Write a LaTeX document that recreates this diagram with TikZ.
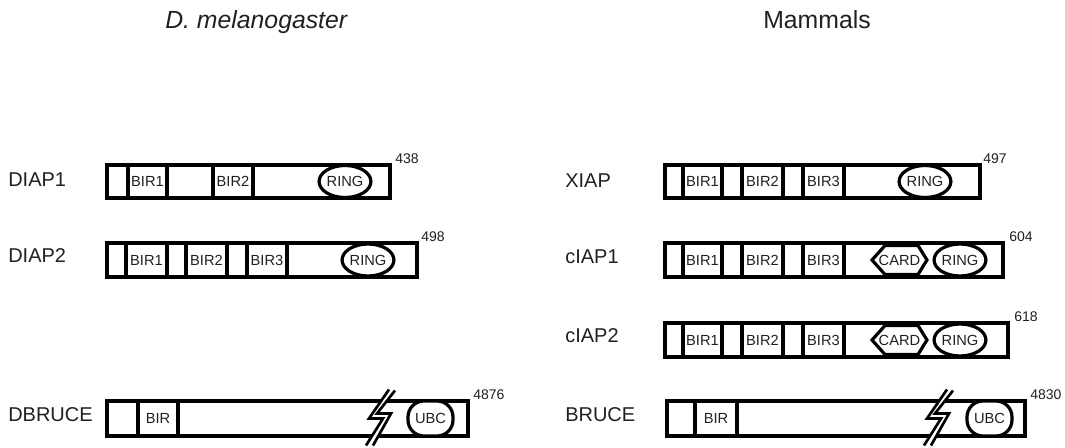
\documentclass[tikz,border=0pt]{standalone}
\usepackage{fontspec}
\setmainfont{Liberation Sans}
\usetikzlibrary{shapes.geometric}
\definecolor{txt}{HTML}{231F20}
\begin{document}
\begin{tikzpicture}[x=0.75pt,y=-0.75pt,
  prot/.style={draw=black,line width=2.6pt},
  divl/.style={draw=black,line width=2.3pt},
  dom/.style={font=\fontsize{11}{13}\selectfont,inner sep=0pt,text=txt},
  ringnode/.style={ellipse,draw=black,line width=2.4pt,fill=white,minimum width=33pt,minimum height=24pt,inner sep=0pt,font=\fontsize{11}{13}\selectfont,text=txt},
  ubcbox/.style={draw=black,line width=2.4pt,fill=white,rounded corners=12pt},
  cardbox/.style={draw=black,line width=2.4pt,fill=white,line join=miter},
  lbl/.style={anchor=base west,inner sep=0pt,font=\fontsize{15}{18}\selectfont,text=txt},
  num/.style={anchor=base west,inner sep=0pt,font=\fontsize{10.5}{12}\selectfont,text=txt},
  ttl/.style={anchor=base west,inner sep=0pt,font=\fontsize{18.6}{22}\selectfont,text=txt},
  brk/.pic={
    \fill[white] (9,-29)--(-11,0)--(3,0)--(-14,27)--(-7,27)--(11,-5)--(-3,-5)--(15,-28)--cycle;
    \draw[line width=2pt,line join=miter] (9,-29)--(-11,0)--(3,0)--(-14,27);
    \draw[line width=2pt,line join=miter] (15,-28)--(-3,-5)--(11,-5)--(-7,27);
  }
]
\useasboundingbox (0,0) rectangle (1065,447);

% titles
\node[ttl] (t1) at (165,28) {\itshape D. melanogaster};
\node[ttl] (t2) at (763,28) {Mammals};

% ---------- DIAP1 ----------
\node[lbl] (l1) at (8,186) {DIAP1};
\draw[prot] (107,165) rectangle (390,198);
\foreach \x in {128,167,213,253} \draw[divl] (\x,165) -- (\x,198);
\node[dom] (d1b1) at (147.5,181.5) {BIR1};
\node[dom] (d1b2) at (233,181.5) {BIR2};
\node[ringnode] (d1r) at (345,181.5) {RING};
\node[num] (n1) at (395,163) {438};

% ---------- DIAP2 ----------
\node[lbl] (l2) at (8,262) {DIAP2};
\draw[prot] (107,243) rectangle (417,277);
\foreach \x in {126,167,186,227,247,287} \draw[divl] (\x,243) -- (\x,277);
\node[dom] (d2b1) at (146.5,260) {BIR1};
\node[dom] (d2b2) at (206.5,260) {BIR2};
\node[dom] (d2b3) at (267,260) {BIR3};
\node[ringnode] (d2r) at (368,260) {RING};
\node[num] (n2) at (421,241) {498};

% ---------- DBRUCE ----------
\node[lbl] (l3) at (8,421.5) {DBRUCE};
\draw[prot] (107,401) rectangle (468,436);
\foreach \x in {138,178} \draw[divl] (\x,401) -- (\x,436);
\node[dom] (d3b) at (158,418.5) {BIR};
\pic at (380,418.5) {brk};
\draw[ubcbox] (408,401) rectangle (453,436);
\node[dom] (d3u) at (430.5,418.5) {UBC};
\node[num] (n3) at (473,399) {4876};

% ---------- XIAP ----------
\node[lbl] (l4) at (565,187) {XIAP};
\draw[prot] (665,165) rectangle (980,198);
\foreach \x in {683,722,742,783,803,844} \draw[divl] (\x,165) -- (\x,198);
\node[dom] (x1) at (702.5,181.5) {BIR1};
\node[dom] (x2) at (762.5,181.5) {BIR2};
\node[dom] (x3) at (823.5,181.5) {BIR3};
\node[ringnode] (xr) at (925,181.5) {RING};
\node[num] (n4) at (983,163) {497};

% ---------- cIAP1 ----------
\node[lbl] (l5) at (565,263) {cIAP1};
\draw[prot] (665,243) rectangle (1003,277);
\foreach \x in {683,722,742,783,803,844} \draw[divl] (\x,243) -- (\x,277);
\node[dom] (c1b1) at (702.5,260) {BIR1};
\node[dom] (c1b2) at (762.5,260) {BIR2};
\node[dom] (c1b3) at (823.5,260) {BIR3};
\draw[cardbox] (872,260) -- (885,245.5) -- (918,245.5) -- (927,260) -- (918,274.5) -- (885,274.5) -- cycle;
\node[dom] (c1c) at (899.5,260) {CARD};
\node[ringnode] (c1r) at (960,260) {RING};
\node[num] (n5) at (1009,241) {604};

% ---------- cIAP2 ----------
\node[lbl] (l6) at (565,342) {cIAP2};
\draw[prot] (665,323) rectangle (1008,357);
\foreach \x in {683,722,742,783,803,844} \draw[divl] (\x,323) -- (\x,357);
\node[dom] (c2b1) at (702.5,340) {BIR1};
\node[dom] (c2b2) at (762.5,340) {BIR2};
\node[dom] (c2b3) at (823.5,340) {BIR3};
\draw[cardbox] (872,340) -- (885,325.5) -- (918,325.5) -- (927,340) -- (918,354.5) -- (885,354.5) -- cycle;
\node[dom] (c2c) at (899.5,340) {CARD};
\node[ringnode] (c2r) at (960,340) {RING};
\node[num] (n6) at (1014,321) {618};

% ---------- BRUCE ----------
\node[lbl] (l7) at (565,421.5) {BRUCE};
\draw[prot] (667,401) rectangle (1025,436);
\foreach \x in {695,737} \draw[divl] (\x,401) -- (\x,436);
\node[dom] (bb) at (716,418.5) {BIR};
\pic at (938,418.5) {brk};
\draw[ubcbox] (967,401) rectangle (1012,436);
\node[dom] (bu) at (989.5,418.5) {UBC};
\node[num] (n7) at (1030,399) {4830};

\end{tikzpicture}
\end{document}
